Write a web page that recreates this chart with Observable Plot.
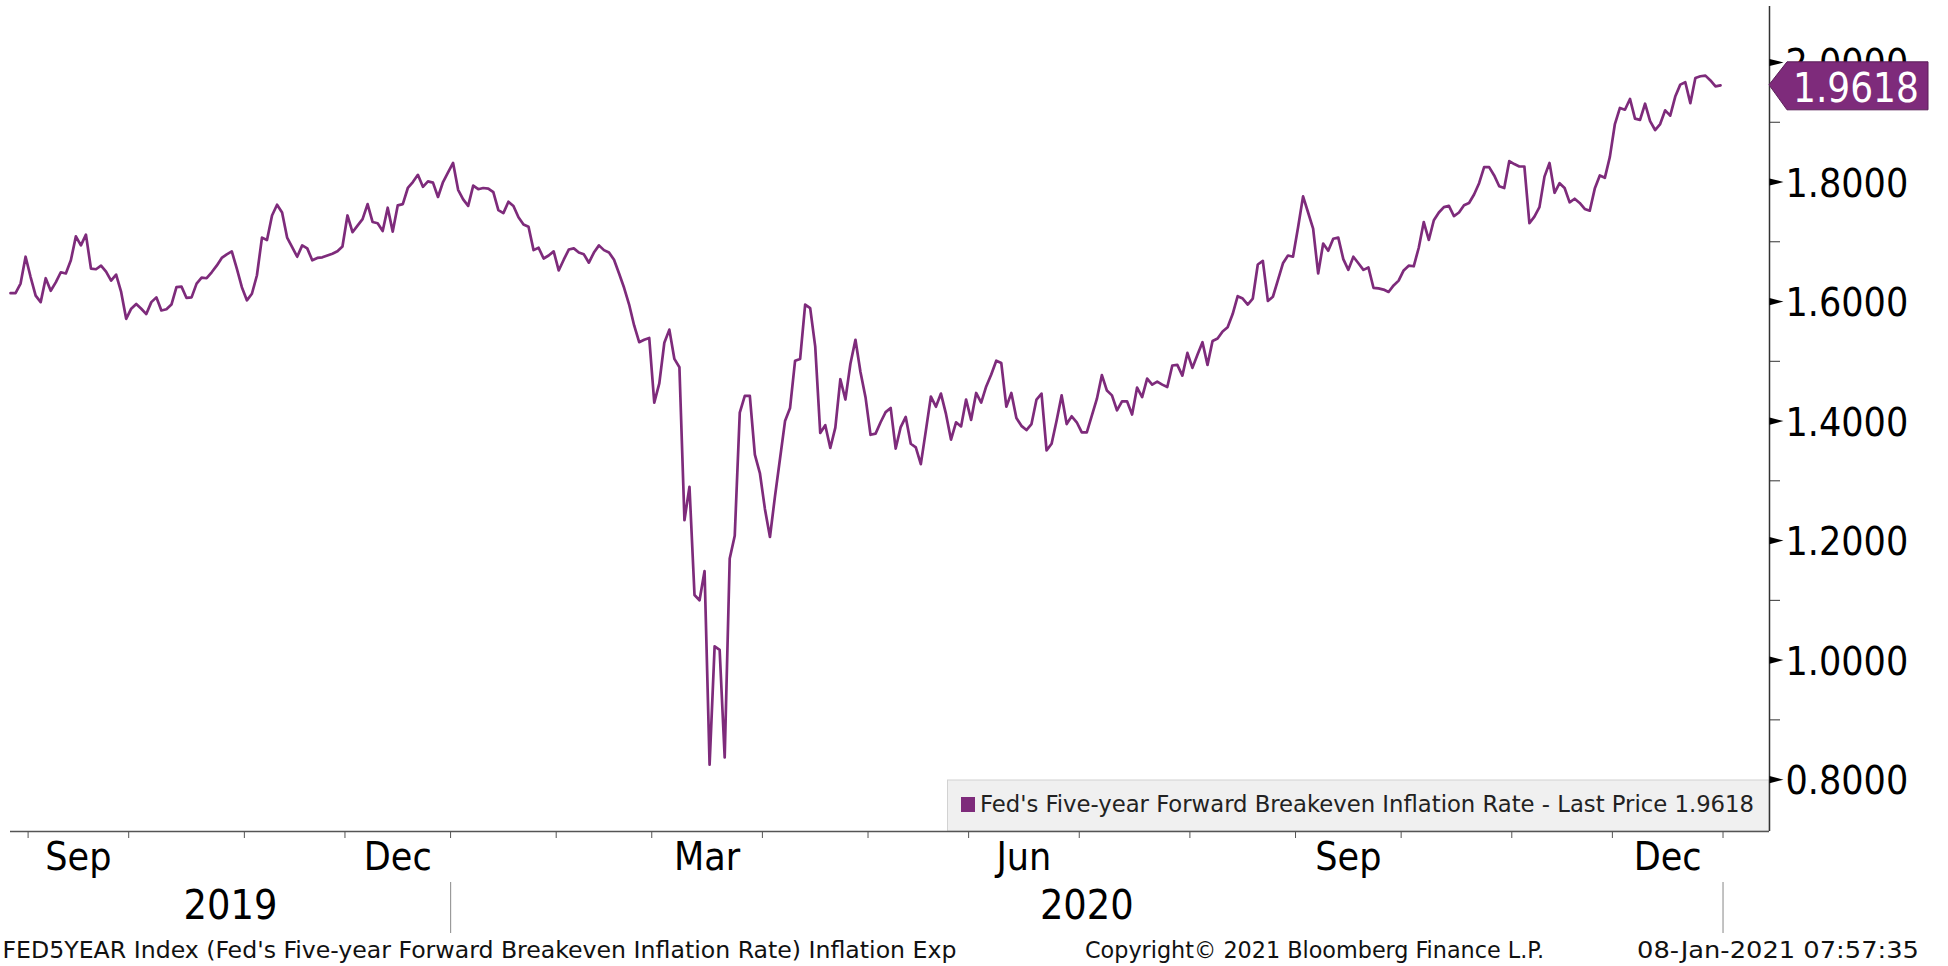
<!DOCTYPE html>
<html>
<head>
<meta charset="utf-8">
<script src="https://cdn.jsdelivr.net/npm/d3@7"></script>
<script src="https://cdn.jsdelivr.net/npm/@observablehq/plot@0.6"></script>
<style>
  html, body { margin: 0; padding: 0; background: #fff; }
  #chart svg { display: block; }
</style>
</head>
<body>
<div id="chart"></div>
<script>
// FED5YEAR Index daily values, one array per month (trading days)
const aug2019 = [1.614, 1.614, 1.630, 1.675];
const sep2019 = [1.641, 1.610, 1.599, 1.639, 1.618, 1.632, 1.649, 1.647, 1.669, 1.709, 1.694, 1.712, 1.655, 1.654, 1.660, 1.650, 1.635, 1.645, 1.616, 1.571];
const oct2019 = [1.588, 1.596, 1.588, 1.579, 1.599, 1.607, 1.585, 1.587, 1.595, 1.624, 1.625, 1.606, 1.607, 1.630, 1.640, 1.639, 1.649, 1.660, 1.673, 1.679, 1.684, 1.655, 1.624];
const nov2019 = [1.602, 1.613, 1.644, 1.707, 1.703, 1.744, 1.762, 1.749, 1.707, 1.691, 1.675, 1.694, 1.689, 1.669, 1.673, 1.674, 1.677, 1.680, 1.684, 1.692];
const dec2019 = [1.744, 1.716, 1.727, 1.738, 1.763, 1.733, 1.731, 1.718, 1.757, 1.717, 1.761, 1.763, 1.790, 1.800, 1.812, 1.792, 1.801, 1.799, 1.775, 1.800, 1.816];
const jan2020 = [1.832, 1.787, 1.771, 1.760, 1.794, 1.788, 1.790, 1.789, 1.783, 1.753, 1.748, 1.767, 1.760, 1.741, 1.729, 1.725, 1.686, 1.690, 1.672, 1.677, 1.684];
const feb2020 = [1.652, 1.670, 1.687, 1.689, 1.682, 1.679, 1.665, 1.682, 1.694, 1.686, 1.682, 1.670, 1.647, 1.623, 1.595, 1.560, 1.532, 1.536, 1.539];
const mar2020 = [1.431, 1.463, 1.531, 1.553, 1.504, 1.490, 1.234, 1.290, 1.109, 1.100, 1.149, 0.825, 1.023, 1.017, 0.837, 1.170, 1.208, 1.414, 1.442, 1.442, 1.344, 1.313];
const apr2020 = [1.253, 1.206, 1.274, 1.337, 1.400, 1.422, 1.501, 1.504, 1.595, 1.589, 1.525, 1.380, 1.393, 1.355, 1.389, 1.470, 1.436, 1.496, 1.536, 1.482, 1.440];
const may2020 = [1.377, 1.379, 1.398, 1.415, 1.422, 1.354, 1.390, 1.407, 1.362, 1.356, 1.328, 1.384, 1.441, 1.424, 1.446, 1.412, 1.369, 1.398, 1.391, 1.436];
const jun2020 = [1.402, 1.447, 1.431, 1.458, 1.478, 1.501, 1.497, 1.424, 1.447, 1.405, 1.392, 1.385, 1.395, 1.436, 1.446, 1.351, 1.362, 1.401, 1.443, 1.395, 1.408, 1.398];
const jul2020 = [1.381, 1.381, 1.409, 1.437, 1.477, 1.451, 1.443, 1.418, 1.433, 1.433, 1.411, 1.456, 1.440, 1.471, 1.461, 1.466, 1.461, 1.457, 1.493, 1.494, 1.476, 1.514];
const aug2020 = [1.489, 1.511, 1.532, 1.494, 1.534, 1.538, 1.550, 1.557, 1.579, 1.609, 1.605, 1.595, 1.605, 1.662, 1.668, 1.601, 1.608, 1.636, 1.664, 1.677, 1.675];
const sep2020 = [1.724, 1.776, 1.749, 1.722, 1.647, 1.697, 1.685, 1.705, 1.707, 1.671, 1.653, 1.675, 1.664, 1.653, 1.657, 1.623, 1.622, 1.620, 1.616, 1.627, 1.635];
const oct2020 = [1.652, 1.660, 1.659, 1.690, 1.733, 1.703, 1.736, 1.749, 1.758, 1.760, 1.743, 1.749, 1.761, 1.765, 1.779, 1.798, 1.825, 1.825, 1.811, 1.793, 1.790, 1.835];
const nov2020 = [1.830, 1.826, 1.826, 1.731, 1.742, 1.758, 1.809, 1.832, 1.782, 1.798, 1.790, 1.766, 1.772, 1.765, 1.755, 1.752, 1.789, 1.811, 1.807, 1.842];
const dec2020 = [1.897, 1.924, 1.921, 1.939, 1.906, 1.904, 1.931, 1.902, 1.887, 1.897, 1.920, 1.911, 1.943, 1.963, 1.967, 1.932, 1.974, 1.977, 1.978, 1.970, 1.960, 1.9618];

const monthSeries = [aug2019, sep2019, oct2019, nov2019, dec2019, jan2020, feb2020, mar2020, apr2020, may2020, jun2020, jul2020, aug2020, sep2020, oct2020, nov2020, dec2020];
const monthLabels = ["", "Sep", "", "", "Dec", "", "", "Mar", "", "", "Jun", "", "", "Sep", "", "", "Dec"];
const monthYears  = [2019, 2019, 2019, 2019, 2019, 2020, 2020, 2020, 2020, 2020, 2020, 2020, 2020, 2020, 2020, 2020, 2020];
const yearLabels = ["2019", "2020"];
const yTicks = [0.8, 1.0, 1.2, 1.4, 1.6, 1.8, 2.0];
const yMinorTicks = [0.9, 1.1, 1.3, 1.5, 1.7, 1.9];

const seriesName = "Fed's Five-year Forward Breakeven Inflation Rate";
const footerLeft = "FED5YEAR Index (Fed's Five-year Forward Breakeven Inflation Rate) Inflation Exp";
const footerMid = "Copyright\u00A9 2021 Bloomberg Finance L.P.";
const footerRight = "08-Jan-2021 07:57:35";

// ---- build table
const data = [];
const monthBounds = [];
const monthCenters = [];
let idx = 0;
monthSeries.forEach((arr, m) => {
  const start = idx;
  arr.forEach(v => data.push({i: idx++, v}));
  monthBounds.push(idx - 0.5);
  monthCenters.push({x: (start - 0.5 + idx - 0.5) / 2, label: monthLabels[m], year: monthYears[m]});
});
const yearSpans = yearLabels.map(y => {
  const ms = monthCenters.map((c, k) => ({...c, k})).filter(c => String(c.year) === y);
  const first = ms[0].k, last = ms[ms.length - 1].k;
  const s = first === 0 ? 0 : monthBounds[first - 1];
  const e = monthBounds[last];
  return {x: (s + e) / 2, label: y, end: e};
});
const yearBounds = yearSpans.map(s => s.end);

const last = data[data.length - 1].v;
const fmt = d3.format(".4f");
const purple = "#7e2b7b";
const xEnd = 349.74;
const yMin = 0.7132, yMax = 2.0937;
const cond = "'DejaVu Sans Condensed', 'DejaVu Sans', sans-serif";

const triangle = {
  draw(ctx) { ctx.moveTo(-7, -3.6); ctx.lineTo(7, 0); ctx.lineTo(-7, 3.6); ctx.closePath(); }
};

const chart = Plot.plot({
  width: 1948,
  height: 935,
  marginTop: 6,
  marginBottom: 104,
  marginLeft: 10,
  marginRight: 179,
  style: {background: "#ffffff", overflow: "visible"},
  x: {domain: [0, xEnd], axis: null, label: null},
  y: {domain: [yMin, yMax], axis: null, label: null},
  marks: [
    Plot.line(data, {x: "i", y: "v", stroke: purple, strokeWidth: 2.7, strokeLinejoin: "round"}),
    Plot.ruleY([yMin], {stroke: "#555", strokeWidth: 1.5}),
    Plot.ruleX([xEnd], {stroke: "#333", strokeWidth: 1.5}),
    Plot.axisX(monthBounds, {anchor: "bottom", tickSize: 7, tickFormat: () => "", stroke: "#555", label: null}),
    Plot.tickX(yearBounds, {x: d => d, insetTop: 774, dy: 102, stroke: "#9a9a9a", strokeWidth: 1.2}),
    Plot.axisY(yMinorTicks, {anchor: "right", tickSize: 10, tickFormat: () => "", stroke: "#333", label: null}),
    Plot.dot(yTicks, {x: xEnd, y: d => d, symbol: triangle, fill: "#000", stroke: null, dx: 7}),
    Plot.text(yTicks, {y: d => d, frameAnchor: "right", textAnchor: "start", lineAnchor: "middle", dx: 16, dy: 2,
      text: d => fmt(d), fontSize: 39, fontFamily: cond, fill: "#000"}),
    Plot.text(monthCenters.filter(d => d.label), {x: "x", text: "label", frameAnchor: "bottom", lineAnchor: "top",
      dy: 11, fontSize: 39, fontFamily: cond, fill: "#000"}),
    Plot.text(yearSpans, {x: "x", text: "label", frameAnchor: "bottom", lineAnchor: "top",
      dy: 58, fontSize: 41, fontFamily: cond, fill: "#000"})
  ]
});

const svg = d3.select(chart);
const xs = chart.scale("x"), ys = chart.scale("y");
const xR = xs.range[1];
const yB = ys.range[0];

// legend box (inside plot, bottom right)
const lg = svg.insert("g", "g").attr("text-anchor", "start");
lg.append("rect").attr("x", 947.5).attr("y", yB - 51).attr("width", xR - 947.5).attr("height", 51)
  .attr("fill", "#f0f0f0").attr("stroke", "#d2d2d2");
lg.append("rect").attr("x", 961).attr("y", yB - 34).attr("width", 14).attr("height", 15).attr("fill", purple);
lg.append("text").attr("x", 980).attr("y", yB - 19).attr("text-anchor", "start")
  .attr("font-family", cond).attr("font-size", 23).attr("fill", "#222")
  .attr("textLength", 774).attr("lengthAdjust", "spacingAndGlyphs")
  .text(`${seriesName} - Last Price ${fmt(last)}`);

// last price tag on the right axis
const py = ys.apply(last);
const tag = svg.append("g").attr("text-anchor", "start");
tag.append("path")
  .attr("d", `M${xR},${py} L${xR + 18},${py - 23} L${xR + 159},${py - 23} L${xR + 159},${py + 25} L${xR + 18},${py + 25} Z`)
  .attr("fill", purple).attr("stroke", "#5a1f58").attr("stroke-width", 1);
tag.append("text").attr("x", xR + 24).attr("y", py + 17).attr("text-anchor", "start")
  .attr("font-family", cond).attr("font-size", 40).attr("fill", "#fff")
  .text(fmt(last));

document.getElementById("chart").appendChild(chart);

// footer caption below the SVG
const foot = d3.create("svg").attr("width", 1948).attr("height", 31).style("display", "block");
const ft = (x, t, len) => foot.append("text").attr("x", x).attr("y", 23).attr("text-anchor", "start")
  .attr("font-family", cond).attr("font-size", 23).attr("fill", "#111")
  .attr("textLength", len).attr("lengthAdjust", "spacingAndGlyphs").text(t);
ft(2.5, footerLeft, 954);
ft(1085, footerMid, 459);
ft(1637, footerRight, 282);
document.getElementById("chart").appendChild(foot.node());
</script>
</body>
</html>
